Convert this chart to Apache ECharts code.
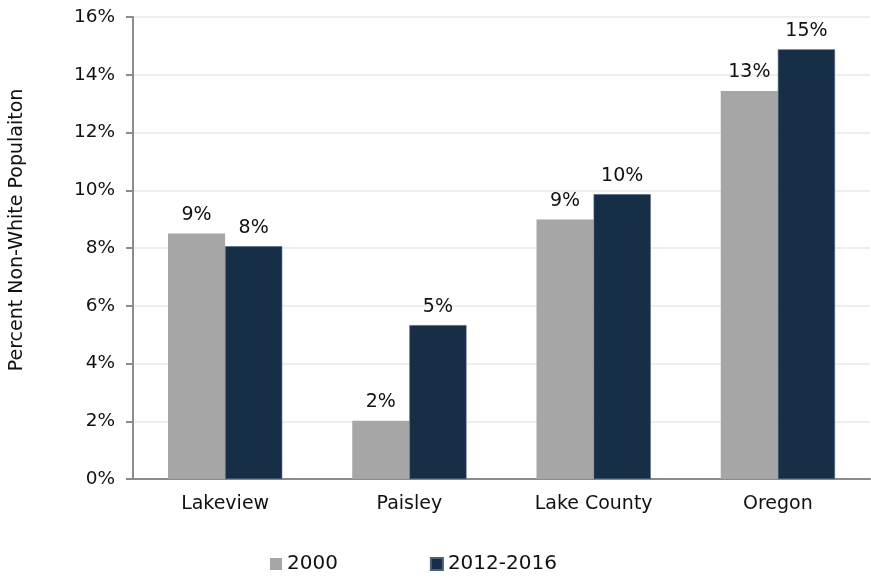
<!DOCTYPE html>
<html><head><meta charset="utf-8">
<script src="https://cdn.jsdelivr.net/npm/echarts@6/dist/echarts.min.js"></script>
<style>html,body{margin:0;padding:0;background:#fff}#c{width:871px;height:577px}</style>
</head><body><div id="c"></div>
<script>
var categories = ['Lakeview', 'Paisley', 'Lake County', 'Oregon'];
var series2000 = [8.5, 2.02, 8.99, 13.44];
var series2012 = [8.06, 5.33, 9.86, 14.88];
var seriesNames = ['2000', '2012-2016'];
var yTicks = [0, 2, 4, 6, 8, 10, 12, 14, 16];

var FONT = '"DejaVu Sans", "Liberation Sans", sans-serif';
var chart = echarts.init(document.getElementById('c'));
var lbl = {
  show: true, position: 'top', distance: 9,
  fontFamily: FONT, fontSize: 19, color: '#111',
  formatter: function (p) { return Math.round(p.value) + '%'; }
};
chart.setOption({
  animation: false,
  grid: { left: 133, right: 1, top: 17, bottom: 98, containLabel: false },
  legend: {
    top: 549, left: 265, itemGap: 92, itemWidth: 12, itemHeight: 12,
    icon: 'rect',
    textStyle: { fontFamily: FONT, fontSize: 20, color: '#111' },
    data: seriesNames
  },
  xAxis: {
    type: 'category', data: categories,
    axisLine: { lineStyle: { color: '#8c8c8c', width: 2 } },
    axisTick: { show: false },
    axisLabel: { fontFamily: FONT, fontSize: 19, color: '#111', margin: 16 }
  },
  yAxis: {
    type: 'value', min: yTicks[0], max: yTicks[yTicks.length - 1], interval: 2,
    name: 'Percent Non-White Populaiton', nameLocation: 'middle', nameGap: 106,
    nameTextStyle: { fontFamily: FONT, fontSize: 19, color: '#111', padding: [0, 0, 0, 36] },
    axisLine: { show: true, lineStyle: { color: '#8c8c8c', width: 2 } },
    axisTick: { show: true, length: 7, lineStyle: { color: '#8c8c8c', width: 2 } },
    splitLine: { lineStyle: { color: '#eeeeee', width: 2 } },
    axisLabel: { fontFamily: FONT, fontSize: 18.5, color: '#111', margin: 18,
      formatter: function (v) { return v + '%'; } }
  },
  series: [
    { name: seriesNames[0], type: 'bar', data: series2000, barGap: '0%', barCategoryGap: '38%',
      itemStyle: { color: '#a6a6a6' }, label: lbl },
    { name: seriesNames[1], type: 'bar', data: series2012, barGap: '0%', barCategoryGap: '38%',
      itemStyle: { color: '#172e47', borderColor: '#4a6078', borderWidth: 0.6 }, label: lbl }
  ]
});
</script></body></html>
